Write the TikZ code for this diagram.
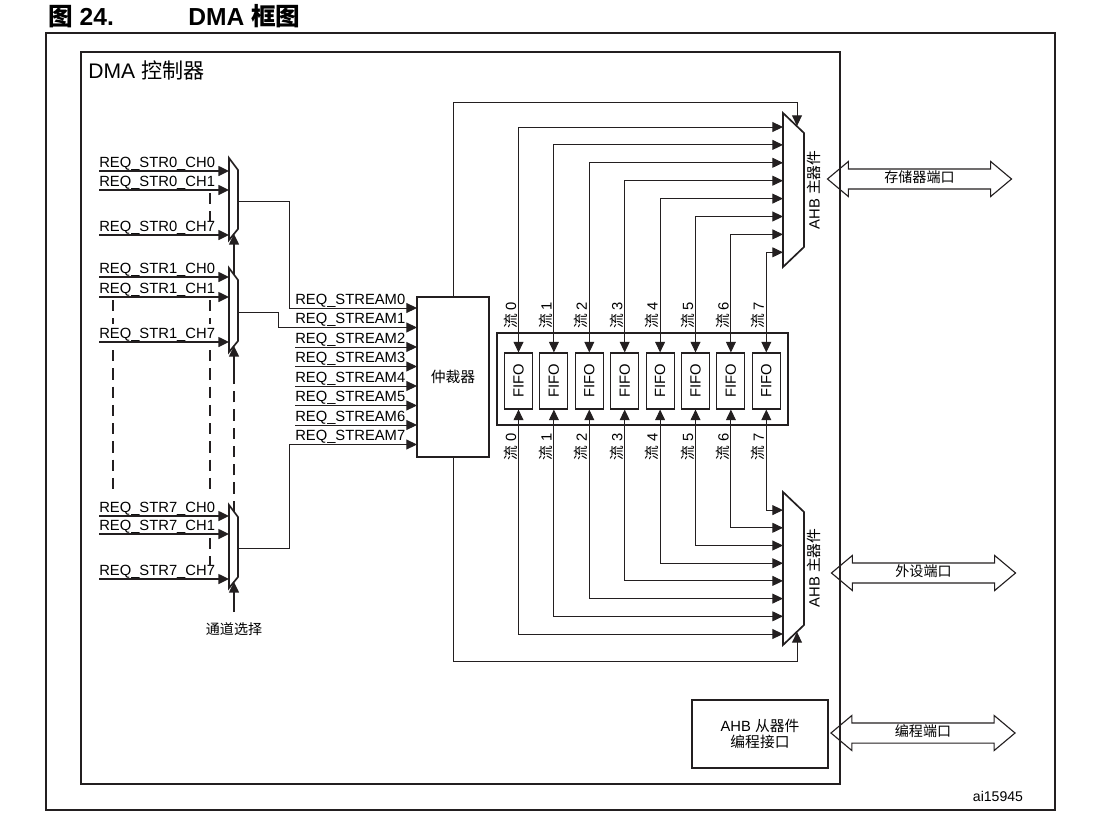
\documentclass[tikz,border=0pt]{standalone}
\usepackage{fontspec}
\setmainfont{Liberation Sans}
\newfontfamily\cjkfont{Noto Sans CJK SC}
\newcommand{\zh}[1]{{\cjkfont #1}}
\usepackage{graphicx}
\usepackage{tikz}
\usetikzlibrary{arrows.meta, positioning, calc, shapes.arrows}
\definecolor{mydark}{RGB}{35,31,32}
\tikzset{
  frame/.style={draw=mydark, line width=1.4pt},
  muxline/.style={draw=mydark, line width=1.2pt, fill=white},
  arbbox/.style={rectangle, draw=mydark, line width=1.4pt,
    minimum width=1.8cm, minimum height=4cm, inner sep=0pt},
  bankbox/.style={rectangle, draw=mydark, line width=1.4pt,
    minimum width=7.275cm, minimum height=2.3cm, inner sep=0pt},
  fifobox/.style={rectangle, draw=mydark, line width=0.8pt,
    minimum width=0.7cm, minimum height=1.4cm, inner sep=0pt},
  slavebox/.style={rectangle, draw=mydark, line width=1.4pt, align=center,
    minimum width=3.4cm, minimum height=1.7cm, inner sep=0pt},
  portarrow/.style={double arrow, draw=mydark, line width=0.8pt,
    double arrow head extend=5.3pt, double arrow tip angle=80,
    minimum height=4.6cm, text height=7.5pt, text depth=2pt,
    inner xsep=0pt, inner ysep=2pt, font=\cjkfont},
  reqlabel/.style={anchor=base west, inner sep=0pt, yshift=2.8pt},
  streamlabel/.style={rotate=90, inner sep=0pt},
  arrow/.style={-{Triangle[length=7.5pt,width=7pt]}, line width=0.7pt, color=mydark},
  inarrow/.style={-{Triangle[length=7.5pt,width=7pt]}, line width=1.1pt, color=mydark},
  dblarrow/.style={{Triangle[length=7.5pt,width=7pt]}-{Triangle[length=7.5pt,width=7pt]},
    line width=0.7pt, color=mydark},
  dashline/.style={line width=1.2pt, color=mydark, dash pattern=on 8pt off 5pt}
}

\begin{document}
\begin{tikzpicture}[x=0.025cm, y=-0.025cm, font=\fontsize{10.5}{12}\selectfont]
  \useasboundingbox (0,0) rectangle (1098,815);

  % title and frames
  \node[anchor=base west, inner sep=0pt, font=\fontsize{17.5}{20}\selectfont\bfseries]
    (fignr) at (48,25) {\zh{图} 24.};
  \node[anchor=base west, inner sep=0pt, font=\fontsize{17.5}{20}\selectfont\bfseries]
    (figname) at (188,25) {DMA \zh{框图}};
  \draw[frame] (46,33) rectangle (1055,810);
  \draw[frame] (81,52) rectangle (840,784);
  \node[anchor=base west, inner sep=0pt, font=\fontsize{15}{18}\selectfont]
    (ctrl) at (88,78) {DMA \zh{控制器}};

  % channel multiplexers
  \foreach \m/\t/\b in {0/158/240, 1/268/352, 7/505/588}{
    \draw[muxline] (229,\t) -- (238,\t+12) -- (238,\b-11) -- (229,\b) -- cycle;
    \coordinate (mux\m left) at (229,\t);
    \coordinate (mux\m out) at (238,{(\t+\b)/2+2});
    \coordinate (mux\m top) at (234,\t+7);
    \coordinate (mux\m sel) at (234,\b-6);
  }
  \foreach \m/\a/\b/\c in {0/171/190/235, 1/277/297/342, 7/516/534/579}{
    \foreach \ch/\y in {0/\a, 1/\b, 7/\c}{
      \coordinate (s\m ch\ch) at (99,\y);
      \node[reqlabel] (l\m ch\ch) at (s\m ch\ch) {REQ\_STR\m\_CH\ch};
      \draw[inarrow] (s\m ch\ch) -- (s\m ch\ch -| mux\m left);
    }
  }
  \draw[dashline] (113,300) -- (113,324) (113,350) -- (113,495);
  \draw[dashline] (210,193) -- (210,222) (210,300) -- (210,324)
    (210,350) -- (210,495) (210,538) -- (210,566);

  % channel select
  \coordinate (selin) at (234,612);
  \coordinate (selbreak) at (234,375);
  \node[font=\cjkfont] (sellabel) at (234,629) {通道选择};
  \draw[inarrow] (selin) -- (mux7sel);
  \draw[dashline] (mux7top) -- (selbreak);
  \draw[inarrow] (selbreak) -- (mux1sel);
  \draw[inarrow] (mux1top) -- (mux0sel);

  % arbiter
  \node[arbbox] (arb) at (453,377) {\zh{仲裁器}};
  \foreach \i in {0,...,7}{
    \coordinate (ain\i) at (417,{308+19.5*\i});
    \coordinate (rsin\i) at (295,{308+19.5*\i});
    \node[reqlabel] (rs\i) at (rsin\i) {REQ\_STREAM\i};
  }
  \foreach \i in {2,...,6}
    \draw[arrow] (rsin\i) -- (ain\i);
  \draw[arrow] (mux0out) -- ++(51,0) |- (ain0);
  \draw[arrow] (mux1out) -- ++(40,0) |- (ain1);
  \draw[arrow] (mux7out) -- ++(51,0) |- (ain7);

  % AHB masters
  \draw[muxline] (783,113) -- (804,133) -- (804,247) -- (783,267) -- cycle;
  \draw[muxline] (783,492) -- (804,512) -- (804,625) -- (783,645) -- cycle;
  \node[rotate=90] (memahb) at (814,190) {AHB \zh{主器件}};
  \node[rotate=90] (perahb) at (814,568) {AHB \zh{主器件}};
  \coordinate (mtopin) at (797,126);
  \coordinate (mbotin) at (797,632);
  \draw[arrow] (arb.north) -- ++(0,-194) -| (mtopin);
  \draw[arrow] (arb.south) -- ++(0,203) -| (mbotin);

  % FIFOs
  \node[bankbox] (bank) at (642.5,379) {};
  \foreach \i in {0,...,7}{
    \node[fifobox] (fifo\i) at ({518.5+35.4*\i},381) {\rotatebox{90}{FIFO}};
    \coordinate (mi\i) at (783,{127+17.9*\i});
    \coordinate (pi\i) at (783,{634-17.7*\i});
    \draw[dblarrow] (fifo\i.north) |- (mi\i);
    \draw[dblarrow] (fifo\i.south) |- (pi\i);
    \node[streamlabel] at ($(fifo\i.north)+(-8,-37)$) {\zh{流} \i};
    \node[streamlabel] at ($(fifo\i.south)+(-8,37)$) {\zh{流} \i};
  }

  % ports
  \node[portarrow] (memport) at (919.5,179) {存储器端口};
  \node[portarrow] (perport) at (923.5,573) {外设端口};
  \node[portarrow] (progport) at (923,733) {编程端口};
  \node[slavebox] (slave) at (760,734) {AHB \zh{从器件}\\[-1pt]\zh{编程接口}};
  \node[font=\fontsize{10}{12}\selectfont] (fignum) at (998,796) {ai15945};
\end{tikzpicture}
\end{document}
